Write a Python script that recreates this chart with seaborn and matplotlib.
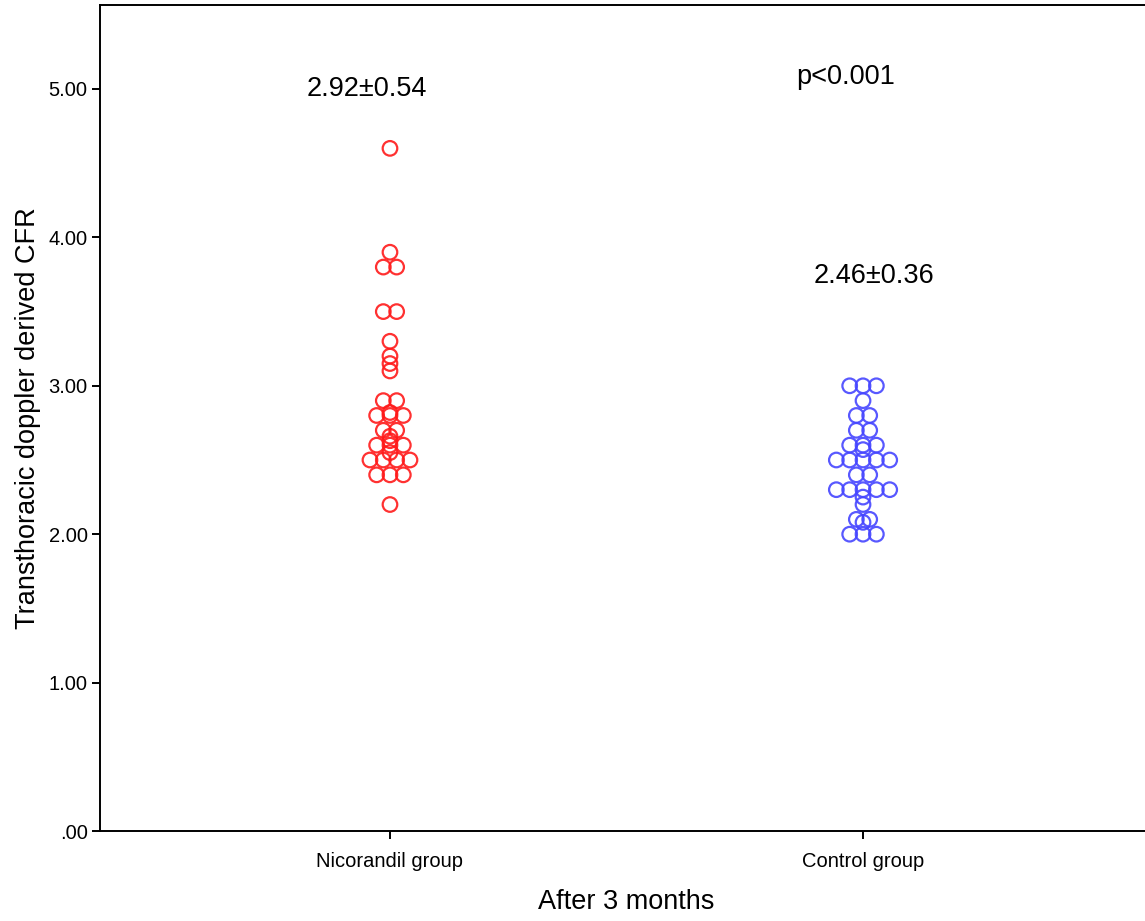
import numpy as np
import pandas as pd
import matplotlib
matplotlib.use("Agg")
import matplotlib.pyplot as plt
import seaborn as sns

# ---------------- data ----------------
groups = ["Nicorandil group", "Control group"]
nicorandil_cfr = [4.6, 3.9, 3.8, 3.8, 3.5, 3.5, 3.3, 3.2, 3.15, 3.1,
                  2.9, 2.9, 2.82, 2.8, 2.8, 2.8, 2.7, 2.7, 2.66, 2.63,
                  2.6, 2.6, 2.6, 2.55, 2.5, 2.5, 2.5, 2.5, 2.4, 2.4, 2.4, 2.2]
control_cfr = [3.0, 3.0, 3.0, 2.9, 2.8, 2.8, 2.7, 2.7, 2.6, 2.6, 2.6, 2.57,
               2.5, 2.5, 2.5, 2.5, 2.5, 2.4, 2.4, 2.3, 2.3, 2.3, 2.3, 2.3,
               2.25, 2.2, 2.1, 2.1, 2.08, 2.0, 2.0, 2.0]
group_colors = ["#FF1A1A", "#4646FF"]
mean_sd_labels = ["2.92\u00b10.54", "2.46\u00b10.36"]
p_label = "p<0.001"
y_ticks = [0, 1, 2, 3, 4, 5]
y_tick_labels = [".00", "1.00", "2.00", "3.00", "4.00", "5.00"]
x_label = "After 3 months"
y_label = "Transthoracic doppler derived CFR"


def symmetric_dodge(values, step):
    """Offsets for tied values, placed symmetrically around the centre (SPSS-like dot plot)."""
    vals = np.asarray(values)
    off = np.zeros(len(vals))
    for v in np.unique(vals):
        idx = np.where(vals == v)[0]
        n = len(idx)
        off[idx] = (np.arange(n) - (n - 1) / 2) * step
    return off


series = [nicorandil_cfr, control_cfr]
frames = []
for gi, (g, vals) in enumerate(zip(groups, series)):
    frames.append(pd.DataFrame({
        "group": g,
        "cfr": vals,
        "xpos": gi + symmetric_dodge(vals, 0.0282),
    }))
df = pd.concat(frames, ignore_index=True)

# ---------------- figure ----------------
sns.set_style("white")
plt.rcParams["font.family"] = ["Liberation Sans", "DejaVu Sans"]
plt.rcParams["text.color"] = "black"
plt.rcParams["axes.labelcolor"] = "black"

W, H = 1145, 921
fig = plt.figure(figsize=(W / 100, H / 100), dpi=100)
ax = fig.add_axes([100 / W, (H - 831) / H, 1053 / W, 826 / H])

for gi, g in enumerate(groups):
    sub = df[df["group"] == g]
    sns.scatterplot(data=sub, x="xpos", y="cfr", ax=ax, s=110,
                    color=group_colors[gi], facecolors="none",
                    edgecolor=group_colors[gi], linewidth=1.6, alpha=0.9,
                    legend=False)

ax.set_xlim(-0.613, 1.613)
ax.set_ylim(0, 5.566)
ax.set_xticks(range(len(groups)))
ax.set_xticklabels(groups, fontsize=14.5)
ax.set_yticks(y_ticks)
ax.set_yticklabels(y_tick_labels, fontsize=14.5)
ax.tick_params(axis="both", direction="out", length=6, width=1.4, color="black",
               labelcolor="black", bottom=True, left=True, top=False, right=False)
ax.tick_params(axis="x", pad=9)
ax.tick_params(axis="y", pad=3)

for side in ["left", "bottom", "top"]:
    ax.spines[side].set_visible(True)
    ax.spines[side].set_color("black")
    ax.spines[side].set_linewidth(1.4)
ax.spines["right"].set_visible(False)

ax.set_xlabel(x_label, fontsize=19.5, labelpad=13, color="black")
ax.set_ylabel(y_label, fontsize=19.5, labelpad=5.5, color="black")

ax.text(-0.05, 5.0, mean_sd_labels[0], ha="center", va="center", fontsize=19.5, color="black")
ax.text(1.023, 3.74, mean_sd_labels[1], ha="center", va="center", fontsize=19.5, color="black")
ax.text(0.964, 5.08, p_label, ha="center", va="center", fontsize=19.5, color="black")

fig.savefig("out.png", dpi=100)
